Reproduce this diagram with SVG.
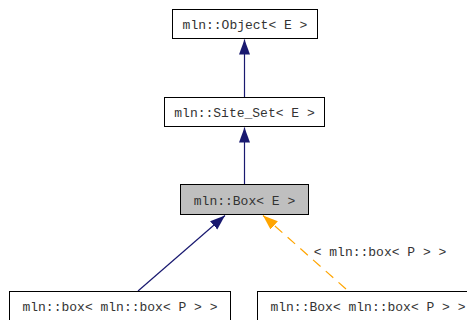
<svg xmlns="http://www.w3.org/2000/svg" width="467" height="320" viewBox="0 0 467 320">
<style>
.box{fill:#ffffff;stroke:#000000;stroke-width:1}
.cur{fill:#bfbfbf;stroke:#000000;stroke-width:1}
text{font-family:"Liberation Mono","Courier New",monospace;font-size:13px;fill:#333333;text-anchor:middle}
.inh{stroke:#191970;stroke-width:1.2;fill:none}
.tpl{stroke:#ffa500;stroke-width:1.2;fill:none;stroke-dasharray:10,7}
</style>
<defs>
<marker id="navy" markerUnits="userSpaceOnUse" markerWidth="16" markerHeight="12" refX="15" refY="5.5" orient="auto">
<path d="M0,0 L15,5.5 L0,11 z" fill="#191970"/>
</marker>
<marker id="orange" markerUnits="userSpaceOnUse" markerWidth="16" markerHeight="12" refX="15" refY="5.5" orient="auto">
<path d="M0,0 L15,5.5 L0,11 z" fill="#ffa500"/>
</marker>
</defs>
<g id="connectors">
<line class="inh" x1="244.5" y1="97" x2="244.5" y2="39.5" marker-end="url(#navy)"/>
<line class="inh" x1="244.5" y1="184" x2="244.5" y2="127.5" marker-end="url(#navy)"/>
<line class="inh" x1="138" y1="291" x2="225" y2="215.5" marker-end="url(#navy)"/>
<line class="tpl" x1="346" y1="289" x2="263" y2="215.5" marker-end="url(#orange)"/>
<text x="380" y="256">&lt; mln::box&lt; P &gt; &gt;</text>
</g>
<g id="object">
<rect class="box" x="172.5" y="9.5" width="145" height="29"/>
<text x="245" y="29">mln::Object&lt; E &gt;</text>
</g>
<g id="site_set">
<rect class="box" x="164.5" y="97.5" width="160" height="29"/>
<text x="244.5" y="117">mln::Site_Set&lt; E &gt;</text>
</g>
<g id="box">
<rect class="cur" x="180.5" y="184.5" width="128" height="30"/>
<text x="244.5" y="205">mln::Box&lt; E &gt;</text>
</g>
<g id="box_box">
<rect class="box" x="9.5" y="291.5" width="221" height="30"/>
<text x="120" y="311">mln::box&lt; mln::box&lt; P &gt; &gt;</text>
</g>
<g id="Box_box">
<rect class="box" x="257.5" y="291.5" width="221" height="30"/>
<text x="368" y="311">mln::Box&lt; mln::box&lt; P &gt; &gt;</text>
</g>
</svg>
